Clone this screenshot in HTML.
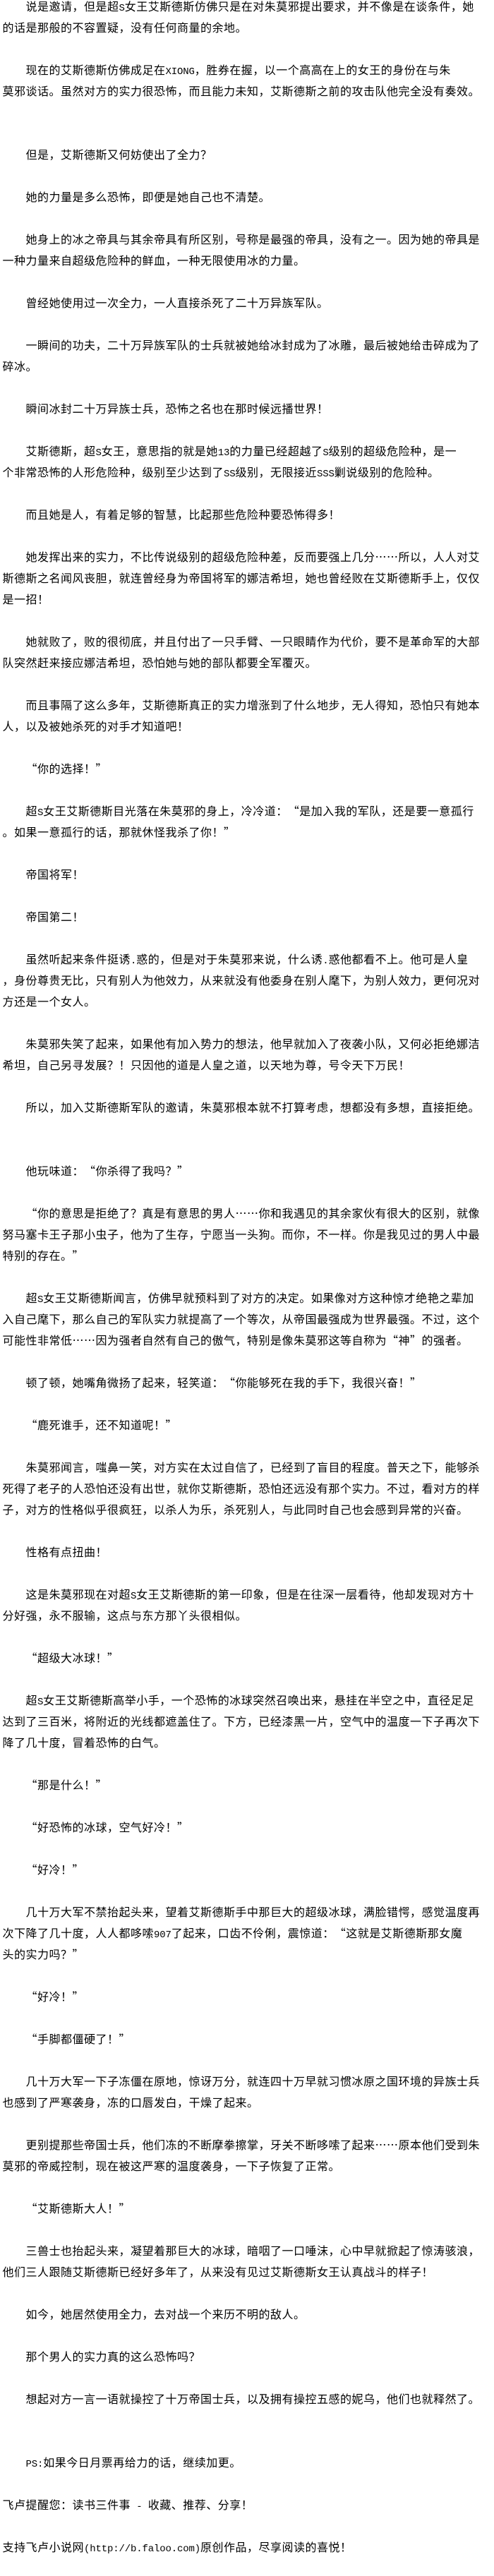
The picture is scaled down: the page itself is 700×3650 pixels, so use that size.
<!DOCTYPE html>
<html lang="zh-CN">
<head>
<meta charset="utf-8">
<title>Novel page</title>
<style>
html,body{margin:0;padding:0;background:#fff;width:700px;height:3650px;overflow:hidden}
pre{position:absolute;left:3.5px;top:-7px;margin:0;color:#000;
font-family:"WenQuanYi Zen Hei","Noto Sans CJK SC",sans-serif;font-size:16px;letter-spacing:.5px;line-height:30px;
white-space:pre;font-kerning:none;text-spacing-trim:space-all;text-autospace:no-autospace}
b{font:normal 14px/1 "Liberation Mono",monospace;letter-spacing:-.15px}
</style>
</head>
<body>
<pre>
　　说是邀请，但是超<b>S</b>女王艾斯德斯仿佛只是在对朱莫邪提出要求，并不像是在谈条件，她
的话是那般的不容置疑，没有任何商量的余地。

　　现在的艾斯德斯仿佛成足在<b>XIONG</b>，胜券在握，以一个高高在上的女王的身份在与朱
莫邪谈话。虽然对方的实力很恐怖，而且能力未知，艾斯德斯之前的攻击队他完全没有奏效。


　　但是，艾斯德斯又何妨使出了全力？

　　她的力量是多么恐怖，即便是她自己也不清楚。

　　她身上的冰之帝具与其余帝具有所区别，号称是最强的帝具，没有之一。因为她的帝具是
一种力量来自超级危险种的鲜血，一种无限使用冰的力量。

　　曾经她使用过一次全力，一人直接杀死了二十万异族军队。

　　一瞬间的功夫，二十万异族军队的士兵就被她给冰封成为了冰雕，最后被她给击碎成为了
碎冰。

　　瞬间冰封二十万异族士兵，恐怖之名也在那时候远播世界！

　　艾斯德斯，超<b>S</b>女王，意思指的就是她<b>13</b>的力量已经超越了<b>S</b>级别的超级危险种，是一
个非常恐怖的人形危险种，级别至少达到了<b>SS</b>级别，无限接近<b>SSS</b>剿说级别的危险种。

　　而且她是人，有着足够的智慧，比起那些危险种要恐怖得多！

　　她发挥出来的实力，不比传说级别的超级危险种差，反而要强上几分……所以，人人对艾
斯德斯之名闻风丧胆，就连曾经身为帝国将军的娜洁希坦，她也曾经败在艾斯德斯手上，仅仅
是一招！

　　她就败了，败的很彻底，并且付出了一只手臂、一只眼睛作为代价，要不是革命军的大部
队突然赶来接应娜洁希坦，恐怕她与她的部队都要全军覆灭。

　　而且事隔了这么多年，艾斯德斯真正的实力增涨到了什么地步，无人得知，恐怕只有她本
人，以及被她杀死的对手才知道吧！

　　“你的选择！”

　　超<b>S</b>女王艾斯德斯目光落在朱莫邪的身上，冷冷道：“是加入我的军队，还是要一意孤行
。如果一意孤行的话，那就休怪我杀了你！”

　　帝国将军！

　　帝国第二！

　　虽然听起来条件挺诱<b>.</b>惑的，但是对于朱莫邪来说，什么诱<b>.</b>惑他都看不上。他可是人皇
，身份尊贵无比，只有别人为他效力，从来就没有他委身在别人麾下，为别人效力，更何况对
方还是一个女人。

　　朱莫邪失笑了起来，如果他有加入势力的想法，他早就加入了夜袭小队，又何必拒绝娜洁
希坦，自己另寻发展？！只因他的道是人皇之道，以天地为尊，号令天下万民！

　　所以，加入艾斯德斯军队的邀请，朱莫邪根本就不打算考虑，想都没有多想，直接拒绝。


　　他玩味道：“你杀得了我吗？”

　　“你的意思是拒绝了？真是有意思的男人……你和我遇见的其余家伙有很大的区别，就像
努马塞卡王子那小虫子，他为了生存，宁愿当一头狗。而你，不一样。你是我见过的男人中最
特别的存在。”

　　超<b>S</b>女王艾斯德斯闻言，仿佛早就预料到了对方的决定。如果像对方这种惊才绝艳之辈加
入自己麾下，那么自己的军队实力就提高了一个等次，从帝国最强成为世界最强。不过，这个
可能性非常低……因为强者自然有自己的傲气，特别是像朱莫邪这等自称为“神”的强者。

　　顿了顿，她嘴角微扬了起来，轻笑道：“你能够死在我的手下，我很兴奋！”

　　“鹿死谁手，还不知道呢！”

　　朱莫邪闻言，嗤鼻一笑，对方实在太过自信了，已经到了盲目的程度。普天之下，能够杀
死得了老子的人恐怕还没有出世，就你艾斯德斯，恐怕还远没有那个实力。不过，看对方的样
子，对方的性格似乎很疯狂，以杀人为乐，杀死别人，与此同时自己也会感到异常的兴奋。

　　性格有点扭曲！

　　这是朱莫邪现在对超<b>S</b>女王艾斯德斯的第一印象，但是在往深一层看待，他却发现对方十
分好强，永不服输，这点与东方那丫头很相似。

　　“超级大冰球！”

　　超<b>S</b>女王艾斯德斯高举小手，一个恐怖的冰球突然召唤出来，悬挂在半空之中，直径足足
达到了三百米，将附近的光线都遮盖住了。下方，已经漆黑一片，空气中的温度一下子再次下
降了几十度，冒着恐怖的白气。

　　“那是什么！”

　　“好恐怖的冰球，空气好冷！”

　　“好冷！”

　　几十万大军不禁抬起头来，望着艾斯德斯手中那巨大的超级冰球，满脸错愕，感觉温度再
次下降了几十度，人人都哆嗦<b>907</b>了起来，口齿不伶俐，震惊道：“这就是艾斯德斯那女魔
头的实力吗？”

　　“好冷！”

　　“手脚都僵硬了！”

　　几十万大军一下子冻僵在原地，惊讶万分，就连四十万早就习惯冰原之国环境的异族士兵
也感到了严寒袭身，冻的口唇发白，干燥了起来。

　　更别提那些帝国士兵，他们冻的不断摩拳擦掌，牙关不断哆嗦了起来……原本他们受到朱
莫邪的帝威控制，现在被这严寒的温度袭身，一下子恢复了正常。

　　“艾斯德斯大人！”

　　三兽士也抬起头来，凝望着那巨大的冰球，暗咽了一口唾沫，心中早就掀起了惊涛骇浪，
他们三人跟随艾斯德斯已经好多年了，从来没有见过艾斯德斯女王认真战斗的样子！

　　如今，她居然使用全力，去对战一个来历不明的敌人。

　　那个男人的实力真的这么恐怖吗？

　　想起对方一言一语就操控了十万帝国士兵，以及拥有操控五感的妮乌，他们也就释然了。


　　<b>PS:</b>如果今日月票再给力的话，继续加更。

飞卢提醒您：读书三件事<b> - </b>收藏、推荐、分享！

支持飞卢小说网<b>(http://b.faloo.com)</b>原创作品，尽享阅读的喜悦！
</pre>
</body>
</html>
